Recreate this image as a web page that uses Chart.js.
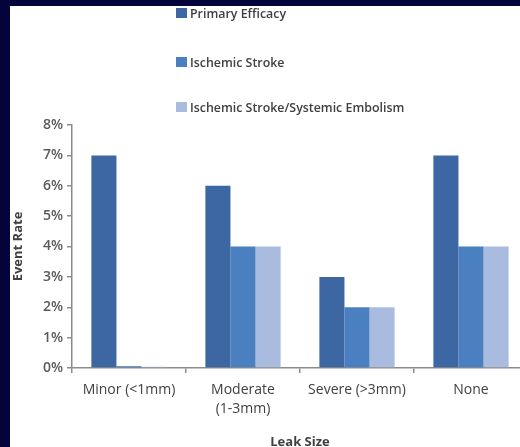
<!DOCTYPE html>
<html>
<head>
<meta charset="utf-8">
<script src="https://cdn.jsdelivr.net/npm/chart.js@4.4.1/dist/chart.umd.min.js"></script>
<style>
  html, body { margin: 0; padding: 0; }
  body { background: #04043a; width: 520px; height: 447px; overflow: hidden; position: relative; }
  #panel { position: absolute; left: 10px; top: 6px; width: 530px; height: 450px; background: #fff; }
</style>
</head>
<body>
<div id="panel"><canvas id="leakChart" width="530" height="450"></canvas></div>
<script>
// leak size groups and event rates (%)
const leakSizes = [['Minor (<1mm)'], ['Moderate', '(1-3mm)'], ['Severe (>3mm)'], ['None']];
const seriesNames = ['Primary Efficacy', 'Ischemic Stroke', 'Ischemic Stroke/Systemic Embolism'];
const primaryEfficacy = [7, 6, 3, 7];
const ischemicStroke = [0.06, 4, 2, 4];
const strokeEmbolism = [0.04, 4, 2, 4];
const rateTicks = [0, 1, 2, 3, 4, 5, 6, 7, 8];

const barColors = ['#3d67a3', '#4a7fc0', '#a9bcdf'];
const axisGray = '#8c8c8c';
const textGray = '#404040';

// legend stacked in a single column above the plot
const columnLegend = {
  id: 'columnLegend',
  afterDraw(chart) {
    const ctx = chart.ctx;
    const rows = [7, 56, 101];
    ctx.save();
    ctx.font = '600 12.4px "Open Sans"';
    ctx.textBaseline = 'middle';
    ctx.textAlign = 'left';
    chart.data.datasets.forEach((ds, i) => {
      ctx.fillStyle = ds.backgroundColor;
      ctx.fillRect(166, rows[i] - 5, 11, 10);
      ctx.fillStyle = textGray;
      ctx.fillText(ds.label, 180, rows[i] + 1);
    });
    ctx.restore();
  }
};

const datasets = [primaryEfficacy, ischemicStroke, strokeEmbolism].map((vals, i) => ({
  label: seriesNames[i],
  data: vals,
  backgroundColor: barColors[i],
  borderWidth: 0,
  categoryPercentage: 0.66,
  barPercentage: 1
}));

new Chart(document.getElementById('leakChart'), {
  type: 'bar',
  data: { labels: leakSizes, datasets: datasets },
  plugins: [columnLegend],
  options: {
    responsive: false,
    animation: false,
    layout: { padding: { top: 119, right: 12, left: 0, bottom: 0 } },
    plugins: { legend: { display: false }, tooltip: { enabled: false } },
    scales: {
      x: {
        afterFit: s => { s.height = 88; },
        grid: { offset: true, drawOnChartArea: false, drawTicks: true, tickLength: 5, color: axisGray, lineWidth: 1.5 },
        border: { display: true, color: axisGray, width: 1.5 },
        ticks: { color: textGray, padding: 8, font: { family: 'Open Sans', size: 14, lineHeight: 1.35 }, maxRotation: 0 },
        title: {
          display: true, text: 'Leak Size', color: textGray,
          font: { family: 'Open Sans', size: 13, weight: 'bold' }, padding: { top: 0, bottom: 6 }
        }
      },
      y: {
        min: 0,
        max: 8,
        afterFit: s => { s.width = 62; },
        afterBuildTicks: s => { s.ticks = rateTicks.map(v => ({ value: v })); },
        grid: { drawOnChartArea: false, drawTicks: true, tickLength: 5, color: axisGray, lineWidth: 1.5 },
        border: { display: true, color: axisGray, width: 1.5 },
        ticks: {
          color: '#595959', padding: 4,
          font: { family: 'Open Sans', size: 14, weight: '600' },
          callback: v => v + '%'
        },
        title: {
          display: true, text: 'Event Rate', color: textGray,
          font: { family: 'Open Sans', size: 13, weight: 'bold' }, padding: 0
        }
      }
    }
  }
});
</script>
</body>
</html>
